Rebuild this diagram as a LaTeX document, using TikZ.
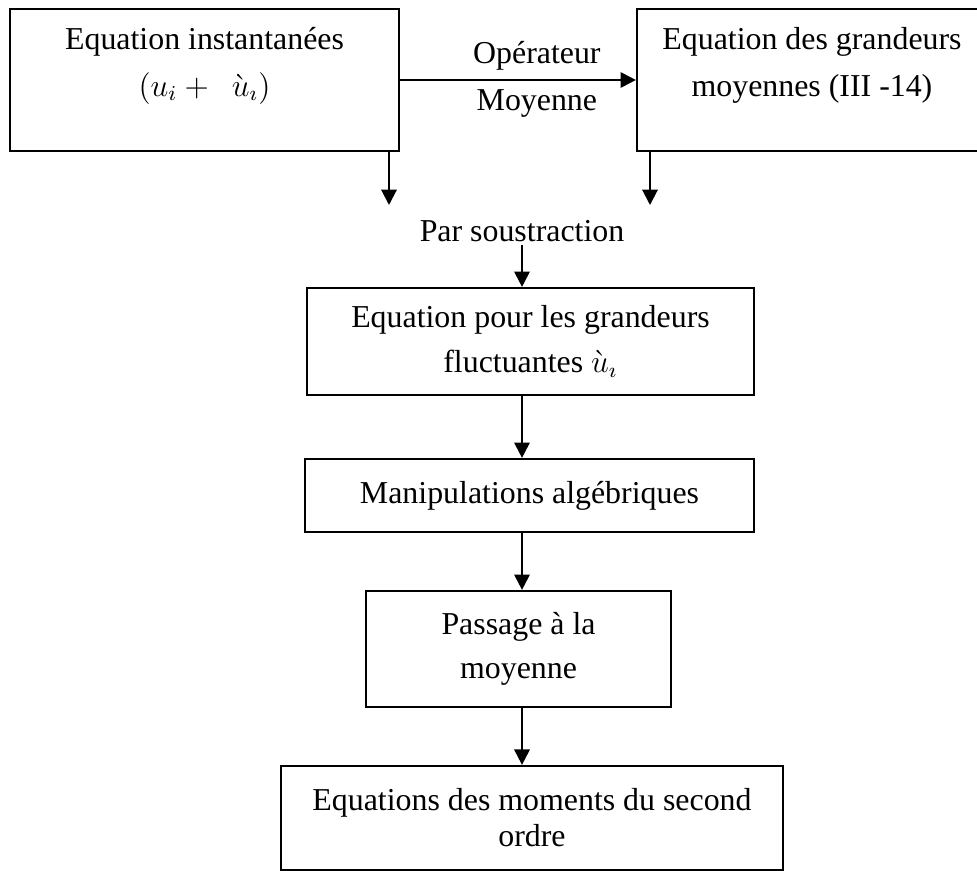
\documentclass[tikz,border=0pt]{standalone}
\usepackage{fontspec}
\setmainfont{Liberation Serif}
\usetikzlibrary{arrows.meta}

\begin{document}
\begin{tikzpicture}[
    x=0.3765pt, y=-0.3765pt,
    >={Triangle[length=5.8pt, width=5.8pt]},
    line width=0.8pt,
    box/.style={
        rectangle,
        draw,
        text centered,
        align=center,
        inner sep=0pt,
        font=\fontsize{12}{16.9}\selectfont
    },
    lbl/.style={font=\fontsize{12}{14}\selectfont}
]
\useasboundingbox (0,0) rectangle (977,871);
\clip (0,0) rectangle (977,871);

% Nodes
\node[box, minimum width=146.5pt, minimum height=53.7pt, font=\fontsize{12}{17.7}\selectfont] (inst) at (204.5,80)
    {Equation instantanées\\ $(u_i +\ \ \grave{u}_\imath)$\\[-3.8pt] ~};
\node[box, minimum width=131.8pt, minimum height=53.7pt, font=\fontsize{12}{17.7}\selectfont] (moy) at (812,80)
    {Equation des grandeurs\\ moyennes (III -14)\\[-3.8pt] ~};
\node[lbl, inner sep=1pt] (sous) at (522,231) {Par soustraction};
\node[box, minimum width=168.3pt, minimum height=40.3pt] (fluct) at (530.5,341.5)
    {Equation pour les grandeurs\\ fluctuantes $\grave{u}_\imath$};
\node[box, minimum width=169pt, minimum height=27.5pt] (manip) at (529.5,495.5)
    {Manipulations algébriques};
\node[box, minimum width=114.9pt, minimum height=43.7pt, font=\fontsize{12}{16.6}\selectfont] (pass) at (518.5,649)
    {Passage à la\\ moyenne};
\node[box, minimum width=189pt, minimum height=39.2pt, font=\fontsize{12}{13.6}\selectfont] (ordre) at (532,818)
    {Equations des moments du second\\ ordre};

\coordinate (inst-out) at (389,205);
\coordinate (moy-out) at (650,205);

% Edges
\draw[->] (inst.east) -- (moy.west)
    node[lbl, pos=0.58, above]{Opérateur}
    node[lbl, pos=0.58, below]{Moyenne};
\draw[->] (inst.south -| inst-out) -- (inst-out);
\draw[->] (moy.south -| moy-out) -- (moy-out);
\draw[->] (sous.south) -- (sous.south |- fluct.north);
\draw[->] (fluct.south -| sous) -- (manip.north -| sous);
\draw[->] (manip.south -| sous) -- (pass.north -| sous);
\draw[->] (pass.south -| sous) -- (ordre.north -| sous);

\end{tikzpicture}
\end{document}
